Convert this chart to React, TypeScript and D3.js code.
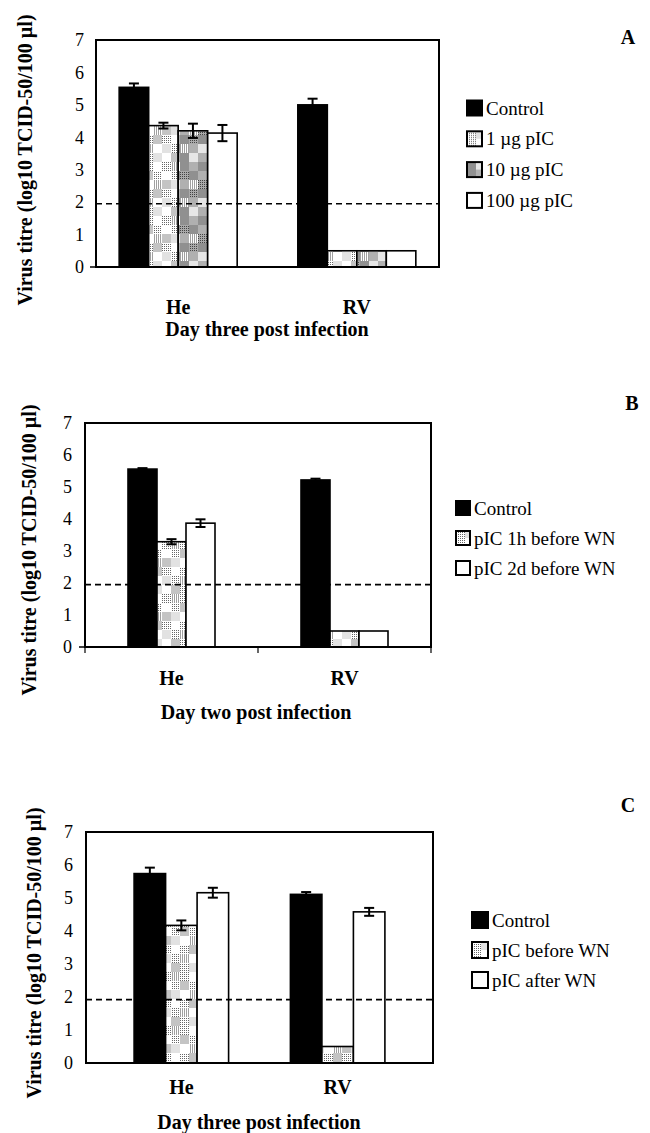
import React, { useRef, useEffect } from 'react'
import * as d3 from 'd3'

const CATEGORIES = ['He', 'RV']
const Y_TICKS = [0, 1, 2, 3, 4, 5, 6, 7]
const Y_LABEL = 'Virus titre (log10 TCID-50/100 µl)'

// Panel A: dose of pIC, day three
const SERIES_A = ['Control', '1 µg pIC', '10 µg pIC', '100 µg pIC']
const VALUES_A = [[5.54, 4.36, 4.2, 4.13], [5.0, 0.5, 0.5, 0.5]]
const ERRORS_A = [[0.12, 0.09, 0.22, 0.25], [0.19, 0, 0, 0]]

// Panel B: timing of pIC, day two
const SERIES_B = ['Control', 'pIC 1h before WN', 'pIC 2d before WN']
const VALUES_B = [[5.56, 3.29, 3.87], [5.22, 0.5, 0.5]]
const ERRORS_B = [[0.03, 0.08, 0.12], [0.04, 0, 0]]

// Panel C: before / after infection, day three
const SERIES_C = ['Control', 'pIC before WN', 'pIC after WN']
const VALUES_C = [[5.74, 4.17, 5.16], [5.11, 0.5, 4.58]]
const ERRORS_C = [[0.18, 0.15, 0.15], [0.07, 0, 0.12]]

const LIMITS = [1.95, 1.95, 1.92]
const X_TITLES = ['Day three post infection', 'Day two post infection', 'Day three post infection']
const LETTERS = ['A', 'B', 'C']

// checker textures used by the pIC bars (cell palette index per cell, 4 cols x 6 rows)
const CHECKER = [
  2, 0, 2, 4,
  1, 2, 0, 2,
  0, 4, 1, 3,
  2, 1, 2, 0,
  4, 0, 3, 2,
  2, 3, 0, 1,
]
const LIGHT_CELLS = ['#ffffff', '#c4c4c4', 'url(#dither)', '#e2e2e2', 'url(#vlines)']
const DARK_CELLS = ['#b0b0b0', 'url(#ditherDark)', '#909090', '#e6e6e6', 'url(#vlines)']

const PANELS = [
  {
    series: SERIES_A, values: VALUES_A, errors: ERRORS_A,
    fills: ['#000', 'url(#chkLight)', 'url(#chkDark)', '#fff'],
    left: 96, right: 439, top: 40, bottom: 267, pad: 0.46, barW: 29.5,
    zeroTick: true, xTicks: false, tickLabelX: 84,
    yLabelX: 32, yLabelY: 160, catY: 307, titleX: 267, titleY: 329,
    letterX: 628, letterY: 37, legX: 467, legY: 108, legStep: 30.8, sw: 15,
  },
  {
    series: SERIES_B, values: VALUES_B, errors: ERRORS_B,
    fills: ['#000', 'url(#chkLight)', '#fff'],
    left: 85, right: 431, top: 423, bottom: 647, pad: 0.5, barW: 29,
    zeroTick: true, xTicks: true, tickLabelX: 72,
    yLabelX: 36, yLabelY: 550, catY: 678, titleX: 256, titleY: 712,
    letterX: 632, letterY: 403, legX: 456, legY: 508, legStep: 30, sw: 14,
  },
  {
    series: SERIES_C, values: VALUES_C, errors: ERRORS_C,
    fills: ['#000', 'url(#chkLight)', '#fff'],
    left: 86, right: 433, top: 832, bottom: 1063, pad: 0.61, barW: 31.5,
    zeroTick: false, xTicks: false, tickLabelX: 73,
    yLabelX: 41, yLabelY: 953, catY: 1087, titleX: 259, titleY: 1122,
    letterX: 628, letterY: 805, legX: 472, legY: 920, legStep: 30, sw: 16,
  },
]

const SERIF = '"Liberation Serif", "DejaVu Serif", serif'

function makePatterns(defs: any) {
  const dither = defs.append('pattern').attr('id', 'dither')
    .attr('patternUnits', 'userSpaceOnUse').attr('width', 2).attr('height', 2)
  dither.append('rect').attr('width', 2).attr('height', 2).attr('fill', '#fff')
  dither.append('rect').attr('width', 1).attr('height', 1).attr('fill', '#666')

  const ditherDark = defs.append('pattern').attr('id', 'ditherDark')
    .attr('patternUnits', 'userSpaceOnUse').attr('width', 2).attr('height', 2)
  ditherDark.append('rect').attr('width', 2).attr('height', 2).attr('fill', '#aaa')
  ditherDark.append('rect').attr('width', 1).attr('height', 1).attr('fill', '#444')

  const vlines = defs.append('pattern').attr('id', 'vlines')
    .attr('patternUnits', 'userSpaceOnUse').attr('width', 2).attr('height', 2)
  vlines.append('rect').attr('width', 2).attr('height', 2).attr('fill', '#fff')
  vlines.append('rect').attr('width', 1).attr('height', 2).attr('fill', '#a0a0a0')

  const cell = 9
  const mk = (id: string, palette: string[]) => {
    const p = defs.append('pattern').attr('id', id)
      .attr('patternUnits', 'userSpaceOnUse').attr('width', cell * 4).attr('height', cell * 6)
    p.selectAll('rect').data(CHECKER).enter().append('rect')
      .attr('x', (_: number, i: number) => (i % 4) * cell)
      .attr('y', (_: number, i: number) => Math.floor(i / 4) * cell)
      .attr('width', cell).attr('height', cell)
      .attr('fill', (d: number) => palette[d])
  }
  mk('chkLight', LIGHT_CELLS)
  mk('chkDark', DARK_CELLS)
}

function drawPanel(svg: any, cfg: any, idx: number) {
  const g = svg.append('g')
  const y = d3.scaleLinear().domain([0, 7]).range([cfg.bottom, cfg.top])
  const x = d3.scalePoint().domain(CATEGORIES).range([cfg.left, cfg.right]).padding(cfg.pad)
  const groupW = cfg.barW * cfg.series.length
  const xs = d3.scaleBand().domain(cfg.series).range([-groupW / 2, groupW / 2]).padding(0)

  const rows = CATEGORIES.flatMap((c, ci) => cfg.series.map((s: string, si: number) => ({
    cat: c, s, si, v: cfg.values[ci][si], e: cfg.errors[ci][si],
  })))

  // bars
  g.selectAll('rect.bar').data(rows).enter().append('rect')
    .attr('class', 'bar')
    .attr('x', (d: any) => (x(d.cat) as number) + (xs(d.s) as number))
    .attr('y', (d: any) => y(d.v))
    .attr('width', xs.bandwidth())
    .attr('height', (d: any) => y(0) - y(d.v))
    .attr('fill', (d: any) => cfg.fills[d.si])
    .attr('stroke', '#000').attr('stroke-width', 1.6)

  // error bars
  const eb = rows.filter((d: any) => d.e > 0)
  const cx = (d: any) => (x(d.cat) as number) + (xs(d.s) as number) + xs.bandwidth() / 2
  g.selectAll('line.err').data(eb).enter().append('line')
    .attr('x1', cx).attr('x2', cx)
    .attr('y1', (d: any) => y(d.v - d.e)).attr('y2', (d: any) => y(d.v + d.e))
    .attr('stroke', '#000').attr('stroke-width', 2)
  const caps = eb.flatMap((d: any) => [{ ...d, at: d.v + d.e }, { ...d, at: d.v - d.e }])
  g.selectAll('line.cap').data(caps).enter().append('line')
    .attr('x1', (d: any) => cx(d) - 5).attr('x2', (d: any) => cx(d) + 5)
    .attr('y1', (d: any) => y(d.at)).attr('y2', (d: any) => y(d.at))
    .attr('stroke', '#000').attr('stroke-width', 2)

  // detection limit
  g.append('line')
    .attr('x1', cfg.left).attr('x2', cfg.right)
    .attr('y1', y(LIMITS[idx])).attr('y2', y(LIMITS[idx]))
    .attr('stroke', '#000').attr('stroke-width', 1.6).attr('stroke-dasharray', '6,4')

  // frame
  g.append('rect')
    .attr('x', cfg.left).attr('y', cfg.top)
    .attr('width', cfg.right - cfg.left).attr('height', cfg.bottom - cfg.top)
    .attr('fill', 'none').attr('stroke', '#000').attr('stroke-width', 2)

  if (cfg.zeroTick) {
    g.append('line').attr('x1', cfg.left - 6).attr('x2', cfg.left)
      .attr('y1', y(0)).attr('y2', y(0)).attr('stroke', '#000').attr('stroke-width', 1.5)
  }
  if (cfg.xTicks) {
    const edges = [cfg.left, (cfg.left + cfg.right) / 2, cfg.right]
    g.selectAll('line.xt').data(edges).enter().append('line')
      .attr('x1', (d: number) => d).attr('x2', (d: number) => d)
      .attr('y1', y(0)).attr('y2', y(0) + 6)
      .attr('stroke', '#000').attr('stroke-width', 1.2)
  }

  // y tick labels
  g.selectAll('text.yt').data(Y_TICKS).enter().append('text')
    .attr('x', cfg.tickLabelX).attr('y', (d: number) => y(d))
    .attr('dy', '0.35em').attr('text-anchor', 'end')
    .style('font-family', SERIF).style('font-size', '18px')
    .text((d: number) => d)

  // category labels
  g.selectAll('text.cat').data(CATEGORIES).enter().append('text')
    .attr('x', (d: string) => x(d) as number).attr('y', cfg.catY)
    .attr('dy', '0.35em').attr('text-anchor', 'middle')
    .style('font-family', SERIF).style('font-size', '20px').style('font-weight', 'bold')
    .text((d: string) => d)

  g.append('text')
    .attr('x', cfg.titleX).attr('y', cfg.titleY).attr('dy', '0.35em').attr('text-anchor', 'middle')
    .style('font-family', SERIF).style('font-size', '20px').style('font-weight', 'bold')
    .text(X_TITLES[idx])

  g.append('text')
    .attr('transform', `translate(${cfg.yLabelX},${cfg.yLabelY}) rotate(-90)`)
    .attr('text-anchor', 'middle')
    .style('font-family', SERIF).style('font-size', '20px').style('font-weight', 'bold')
    .text(Y_LABEL)

  g.append('text')
    .attr('x', cfg.letterX).attr('y', cfg.letterY).attr('dy', '0.35em').attr('text-anchor', 'middle')
    .style('font-family', SERIF).style('font-size', '20px').style('font-weight', 'bold')
    .text(LETTERS[idx])

  // legend
  const leg = g.selectAll('g.leg').data(cfg.series).enter().append('g')
    .attr('transform', (_: string, i: number) => `translate(${cfg.legX},${cfg.legY + i * cfg.legStep})`)
  leg.append('rect')
    .attr('x', 0).attr('y', -cfg.sw / 2).attr('width', cfg.sw).attr('height', cfg.sw)
    .attr('fill', (_: string, i: number) => cfg.fills[i])
    .attr('stroke', '#000').attr('stroke-width', 2)
  leg.append('text')
    .attr('x', cfg.sw + 4).attr('y', 0).attr('dy', '0.35em')
    .style('font-family', SERIF).style('font-size', '19px')
    .text((d: string) => d)
}

export default function App() {
  const svgRef = useRef<SVGSVGElement>(null)

  useEffect(() => {
    if (!svgRef.current) return
    const svg = d3.select(svgRef.current)
    svg.selectAll('*').remove()
    makePatterns(svg.append('defs'))
    PANELS.forEach((p, i) => drawPanel(svg, p, i))
  }, [])

  return (
    <svg ref={svgRef} width={650} height={1133}
      style={{ position: 'absolute', left: 0, top: 0, background: '#fff' }} />
  )
}
